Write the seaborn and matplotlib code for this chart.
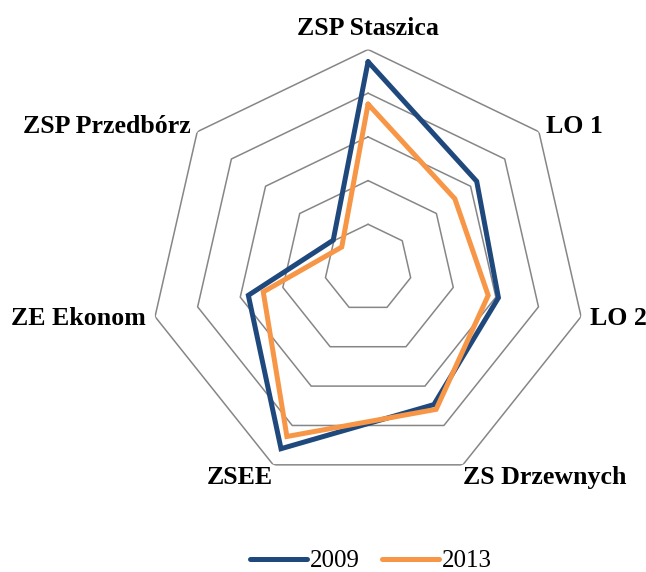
import numpy as np
import pandas as pd
import matplotlib
matplotlib.use("Agg")
import matplotlib.pyplot as plt
import seaborn as sns

categories = ["ZSP Staszica", "LO 1", "LO 2", "ZS Drzewnych", "ZSEE", "ZE Ekonom", "ZSP Przedbórz"]
values_2009 = [4.72, 3.18, 3.06, 3.47, 4.59, 2.81, 1.02]
values_2013 = [3.75, 2.54, 2.82, 3.59, 4.28, 2.46, 0.77]
series_names = ["2009", "2013"]
ring_levels = [1, 2, 3, 4, 5]

colors = {"2009": "#1F497D", "2013": "#F79646"}

sns.set_style("white")
plt.rcParams['font.family'] = ['Liberation Serif', 'DejaVu Serif']
plt.rcParams['text.color'] = 'black'

n = len(categories)
angles = np.linspace(0, 2 * np.pi, n, endpoint=False)
closed_angles = np.append(angles, angles[0])

rows = []
for name, vals in zip(series_names, [values_2009, values_2013]):
    closed_vals = list(vals) + [vals[0]]
    for i, (a, v) in enumerate(zip(closed_angles, closed_vals)):
        rows.append({"theta": a, "r": v, "year": name, "order": i})
df = pd.DataFrame(rows)

fig = plt.figure(figsize=(6.46, 5.72), dpi=100)
ax = fig.add_axes([0.2315, 0.1495, 0.6765, 0.764], projection="polar")
ax.set_theta_zero_location("N")
ax.set_theta_direction(-1)

# polygon gridlines
for lvl in ring_levels:
    ax.plot(closed_angles, [lvl] * len(closed_angles), color="#868686", lw=1.1, zorder=1)

sns.lineplot(data=df, x="theta", y="r", hue="year", palette=colors, sort=False,
             estimator=None, units="year", ax=ax, lw=3.6, legend=False, zorder=3)
for line in ax.get_lines()[len(ring_levels):]:
    line.set_solid_joinstyle("miter")

ax.set_ylim(0, 5)
ax.grid(False)
ax.spines["polar"].set_visible(False)
ax.set_xticks([])
ax.set_yticks([])
ax.set_xlabel("")
ax.set_ylabel("")

placements = [
    (5.21, "center", "bottom"),
    (5.2, "left", "center"),
    (5.2, "left", "center"),
    (5.02, "left", "top"),
    (5.02, "right", "top"),
    (5.22, "right", "center"),
    (5.2, "right", "center"),
]
for a, lab, (r, ha, va) in zip(angles, categories, placements):
    ax.text(a, r, lab, ha=ha, va=va, fontsize=18.6, fontweight="bold", color="black",
            family=["Liberation Serif", "DejaVu Serif"], clip_on=False)

from matplotlib.lines import Line2D
handles = [Line2D([0], [0], color=colors[s], lw=3.6, solid_capstyle="round") for s in series_names]
leg = fig.legend(handles, series_names, loc="lower center", bbox_to_anchor=(0.574, -0.04), ncol=2,
                 frameon=False, fontsize=18, handlelength=2.3, handletextpad=0.1, columnspacing=0.9)
for t in leg.get_texts():
    t.set_color("black")

fig.savefig("out.png", dpi=100, facecolor="white")
